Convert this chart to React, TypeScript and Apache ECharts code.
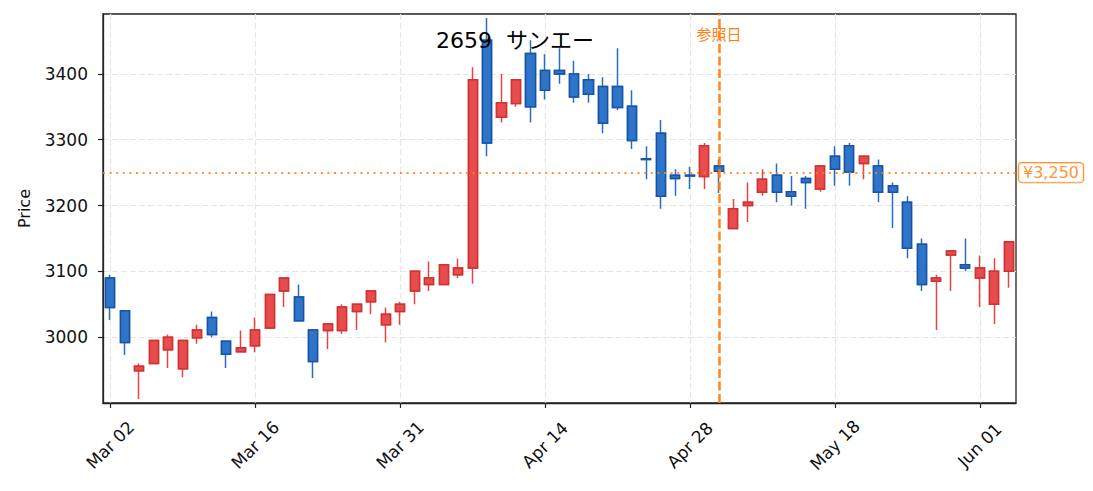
import React, { useEffect, useRef } from "react";
import * as echarts from "echarts";

// ---- data (2020, Tokyo trading days) ----
const dates = [
  "Mar 02", "Mar 03", "Mar 04", "Mar 05", "Mar 06", "Mar 09", "Mar 10", "Mar 11", "Mar 12", "Mar 13",
  "Mar 16", "Mar 17", "Mar 18", "Mar 19", "Mar 23", "Mar 24", "Mar 25", "Mar 26", "Mar 27", "Mar 30",
  "Mar 31", "Apr 01", "Apr 02", "Apr 03", "Apr 06", "Apr 07", "Apr 08", "Apr 09", "Apr 10", "Apr 13",
  "Apr 14", "Apr 15", "Apr 16", "Apr 17", "Apr 20", "Apr 21", "Apr 22", "Apr 23", "Apr 24", "Apr 27",
  "Apr 28", "Apr 30", "May 01", "May 07", "May 08", "May 11", "May 12", "May 13", "May 14", "May 15",
  "May 18", "May 19", "May 20", "May 21", "May 22", "May 25", "May 26", "May 27", "May 28", "May 29",
  "Jun 01", "Jun 02", "Jun 03",
];
const opens = [
  3090, 3040, 2949, 2960, 2981, 2952, 2999, 3030, 2994, 2978,
  2987, 3014, 3070, 3061, 3011, 3010, 3010, 3039, 3054, 3019,
  3039, 3070, 3080, 3080, 3095, 3105, 3451, 3334, 3355, 3431,
  3405, 3405, 3400, 3391, 3381, 3381, 3351, 3271, 3310, 3246,
  3246, 3244, 3260, 3165, 3200, 3220, 3246, 3221, 3241, 3225,
  3275, 3291, 3264, 3260, 3230, 3205, 3141, 3085, 3125, 3110,
  3090, 3050, 3100,
];
const closes = [
  3045, 2992, 2956, 2995, 3000, 2995, 3011, 3004, 2974, 2984,
  3011, 3065, 3090, 3025, 2963, 3020, 3046, 3050, 3070, 3035,
  3050, 3100, 3090, 3110, 3105, 3391, 3295, 3356, 3391, 3350,
  3375, 3400, 3365, 3369, 3325, 3349, 3299, 3270, 3214, 3241,
  3245, 3291, 3252, 3195, 3205, 3240, 3220, 3214, 3235, 3260,
  3255, 3251, 3275, 3220, 3220, 3135, 3080, 3090, 3131, 3105,
  3105, 3100, 3145,
];
const lows = [
  3026, 2973, 2906, 2960, 2953, 2939, 2990, 3000, 2953, 2978,
  2977, 3014, 3046, 3025, 2938, 2982, 3005, 3011, 3035, 2992,
  3019, 3050, 3070, 3080, 3090, 3081, 3275, 3326, 3350, 3326,
  3361, 3385, 3356, 3356, 3310, 3345, 3286, 3240, 3195, 3215,
  3225, 3225, 3219, 3165, 3175, 3215, 3205, 3200, 3195, 3221,
  3230, 3230, 3240, 3205, 3166, 3120, 3070, 3011, 3070, 3100,
  3046, 3020, 3075,
];
const highs = [
  3095, 3040, 2960, 2995, 3004, 2995, 3019, 3039, 2994, 3010,
  3030, 3065, 3090, 3080, 3011, 3020, 3050, 3050, 3070, 3045,
  3054, 3100, 3115, 3110, 3119, 3410, 3485, 3400, 3391, 3451,
  3430, 3439, 3420, 3400, 3395, 3439, 3375, 3290, 3330, 3255,
  3259, 3295, 3270, 3210, 3235, 3255, 3264, 3245, 3245, 3260,
  3290, 3295, 3275, 3270, 3235, 3214, 3150, 3095, 3131, 3150,
  3124, 3120, 3145,
];

const TITLE = "2659  サンエー";
const REF_DATE = "May 01";
const REF_LABEL = "参照日";
const REF_PRICE = 3250;
const REF_PRICE_LABEL = "¥3,250";
const Y_NAME = "Price";

// ---- styles ----
const FONT = "'DejaVu Sans', 'Noto Sans CJK JP', sans-serif";
const ORANGE = "#ff7f0e";
const UP_FILL = "#e84c4c";
const UP_EDGE = "#cc3333";
const UP_WICK = "#e24646";
const DN_FILL = "#2e74c8";
const DN_EDGE = "#1a53a3";
const DN_WICK = "#2a6ec4";
const AXIS = "#222222";
const GRID = "#e6e6e6";

export default function App() {
  const ref = useRef<HTMLDivElement>(null);

  useEffect(() => {
    if (!ref.current) return;
    const chart = echarts.init(ref.current, null, { renderer: "svg" });

    const full = dates.map((_, i) => [opens[i], closes[i], lows[i], highs[i]]);
    const bodies = dates.map((_, i) => [
      opens[i],
      closes[i],
      Math.min(opens[i], closes[i]),
      Math.max(opens[i], closes[i]),
    ]);

    chart.setOption({
      animation: false,
      textStyle: { fontFamily: FONT },
      title: {
        text: TITLE,
        left: 436,
        top: 29,
        padding: 0,
        textStyle: { fontFamily: FONT, fontSize: 22, fontWeight: "normal", color: "#000" },
      },
      grid: {
        left: 103,
        top: 14,
        right: 77,
        bottom: 88,
        show: true,
        borderColor: AXIS,
        borderWidth: 1.3,
        outerBoundsMode: "none",
      },
      xAxis: {
        type: "category",
        data: dates,
        boundaryGap: true,
        axisLine: { show: true, lineStyle: { color: AXIS, width: 1.3 } },
        axisTick: {
          show: true,
          interval: 9,
          alignWithLabel: true,
          length: 5,
          lineStyle: { color: AXIS, width: 1.2 },
        },
        axisLabel: {
          interval: 9,
          rotate: 45,
          align: "center",
          verticalAlign: "middle",
          margin: 42,
          fontSize: 17,
          color: "#111",
          fontFamily: FONT,
        },
        splitLine: {
          show: true,
          interval: 9,
          alignWithLabel: true,
          lineStyle: { color: GRID, type: [6, 3], width: 1.2 },
        },
      },
      yAxis: {
        type: "value",
        min: 2900,
        max: 3491,
        interval: 100,
        name: Y_NAME,
        nameLocation: "middle",
        nameGap: 71,
        nameTextStyle: { fontSize: 16, color: "#111", fontFamily: FONT },
        axisLine: { show: true, lineStyle: { color: AXIS, width: 1.3 } },
        axisTick: { show: true, length: 5, lineStyle: { color: AXIS, width: 1.2 } },
        axisLabel: {
          margin: 15,
          fontSize: 17,
          color: "#111",
          fontFamily: FONT,
          showMinLabel: false,
          showMaxLabel: false,
          formatter: (v: number) => String(Math.round(v)),
        },
        splitLine: {
          show: true,
          showMinLine: false,
          showMaxLine: false,
          lineStyle: { color: GRID, type: [6, 3], width: 1.2 },
        },
      },
      series: [
        {
          type: "candlestick",
          data: full,
          barWidth: "66%",
          silent: true,
          itemStyle: {
            color: UP_WICK,
            color0: DN_WICK,
            borderColor: UP_WICK,
            borderColor0: DN_WICK,
            borderWidth: 1.5,
          },
        },
        {
          type: "candlestick",
          data: bodies,
          barWidth: "66%",
          silent: true,
          itemStyle: {
            color: UP_FILL,
            color0: DN_FILL,
            borderColor: UP_EDGE,
            borderColor0: DN_EDGE,
            borderWidth: 1.5,
          },
          markLine: {
            symbol: "none",
            silent: true,
            animation: false,
            data: [
              {
                yAxis: REF_PRICE,
                lineStyle: { color: ORANGE, type: [2, 4.6], width: 2, opacity: 0.85 },
                label: {
                  show: true,
                  position: "end",
                  distance: 3,
                  formatter: REF_PRICE_LABEL,
                  color: ORANGE,
                  fontSize: 16,
                  fontFamily: FONT,
                  backgroundColor: "#fff",
                  borderColor: ORANGE,
                  borderWidth: 1.2,
                  borderRadius: 3,
                  padding: [2, 4, 1, 4],
                },
              },
              {
                xAxis: REF_DATE,
                lineStyle: { color: ORANGE, type: [9, 3.5], width: 2.5, opacity: 0.95 },
                label: { show: false },
              },
            ],
          },
          markPoint: {
            silent: true,
            animation: false,
            data: [
              {
                coord: [REF_DATE, 3459],
                symbol: "rect",
                symbolSize: 1,
                itemStyle: { color: "rgba(0,0,0,0)" },
                label: {
                  show: true,
                  position: "inside",
                  formatter: REF_LABEL,
                  color: ORANGE,
                  fontSize: 15,
                  fontFamily: FONT,
                },
              },
            ],
          },
        },
      ],
    });

    return () => chart.dispose();
  }, []);

  return (
    <div
      ref={ref}
      style={{ position: "absolute", left: 0, top: 0, width: 1093, height: 491, background: "#fff" }}
    />
  );
}
